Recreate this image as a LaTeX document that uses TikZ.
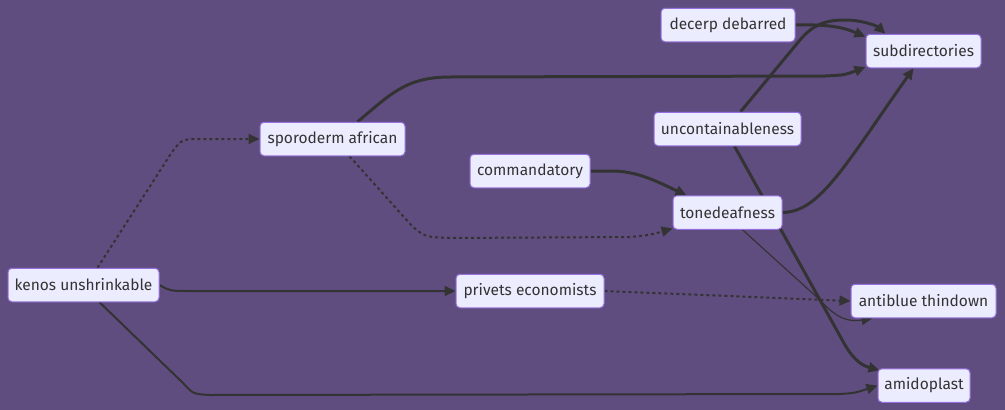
\documentclass[tikz,border=0pt]{standalone}
\usepackage{fontspec}
\setmainfont{Fira Sans}
\usetikzlibrary{arrows.meta,calc}
\pgfdeclarelayer{edges}
\pgfdeclarelayer{bglayer}
\pgfsetlayers{bglayer,edges,main}
\definecolor{bg}{RGB}{96,77,128}
\definecolor{nodefill}{HTML}{ECECFF}
\definecolor{nodeborder}{HTML}{9370DB}
\definecolor{ln}{HTML}{333333}
\tikzset{
  box/.style={draw=nodeborder, fill=nodefill, line width=1pt, rounded corners=4pt,
    minimum height=33.5pt, inner sep=0pt, text=ln,
    font=\fontsize{15.5pt}{18pt}\selectfont},
  edge/.style={draw=ln, line width=2pt, -{Triangle[length=11pt,width=10pt]}},
  thickedge/.style={edge, line width=3pt},
  thinedge/.style={edge, line width=1.2pt},
  dotedge/.style={edge, dash pattern=on 3pt off 3pt},
}
\begin{document}
\begin{tikzpicture}[x=1pt,y=-1pt]
\begin{pgfonlayer}{bglayer}
\fill[bg] (0,0) rectangle (1005,410);
\end{pgfonlayer}
\useasboundingbox (0,0) rectangle (1005,410);

\node[box, minimum width=134pt] (decerp) at (728,25) {decerp debarred};
\node[box, minimum width=115pt] (subdir) at (923.5,51) {subdirectories};
\node[box, minimum width=147pt] (uncont) at (727.5,129) {uncontainableness};
\node[box, minimum width=145pt] (sporo) at (332.5,139) {sporoderm african};
\node[box, minimum width=120pt] (comman) at (530,171) {commandatory};
\node[box, minimum width=109pt] (tone) at (727.5,212.5) {tonedeafness};
\node[box, minimum width=151pt] (kenos) at (83.5,285) {kenos unshrinkable};
\node[box, minimum width=148pt] (privets) at (530,291) {privets economists};
\node[box, minimum width=145pt] (anti) at (923.5,301) {antiblue thindown};
\node[box, minimum width=92pt] (amido) at (924,385.5) {amidoplast};

\begin{pgfonlayer}{edges}
% kenos -> sporoderm (dotted)
\draw[dotedge] ($(kenos.north)+(14,0)$) -- (172,152) .. controls (182,139) .. (202,139) -- (sporo.west);
% kenos -> privets
\draw[edge] (kenos.east) .. controls (170,291) .. (190,291) -- (privets.west);
% kenos -> amidoplast
\draw[edge] ($(kenos.south)+(16,0)$) -- (183,383) .. controls (193,394) .. (210,395) -- (840,394) .. controls (855,393) .. (amido.west);
% sporoderm -> subdirectories
\draw[thickedge] ($(sporo.north)+(25,0)$) .. controls (390,95) and (405,77) .. (450,77) -- (825,76) .. controls (845,75) .. ($(subdir.west)+(0,16)$);
% sporoderm -> tonedeafness (dotted)
\draw[dotedge] ($(sporo.south)+(17,0)$) -- (412,226) .. controls (425,237) .. (450,238) -- (630,237) .. controls (650,235) .. ($(tone.west)+(0,16)$);
% commandatory -> tonedeafness
\draw[thickedge] (comman.east) -- (615,171) .. controls (640,172) and (660,183) .. ($(tone.north west)+(14,0)$);
% tonedeafness -> subdirectories
\draw[thickedge] (tone.east) .. controls (820,212) and (845,165) .. ($(subdir.south)+(-10,0)$);
% tonedeafness -> antiblue (thin)
\draw[thinedge] ($(tone.south)+(15,0)$) -- (820,300) .. controls (838,320) and (850,322) .. ($(anti.south west)+(22,0)$);
% privets -> antiblue (dotted)
\draw[dotedge] (privets.east) -- (anti.west);
% uncontainableness -> subdirectories
\draw[thickedge] ($(uncont.north)+(13,0)$) -- (800,40) .. controls (815,22) and (830,20) .. (845,20) .. controls (862,20) and (877,26) .. ($(subdir.north west)+(20,0)$);
% uncontainableness -> amidoplast
\draw[thickedge] ($(uncont.south)+(7,0)$) -- (845,345) .. controls (855,362) and (864,366) .. ($(amido.north west)+(2,2)$);
% decerp -> subdirectories
\draw[thickedge] (decerp.east) .. controls (830,24) and (845,28) .. ($(subdir.north west)+(0,3)$);
\end{pgfonlayer}
\end{tikzpicture}
\end{document}
